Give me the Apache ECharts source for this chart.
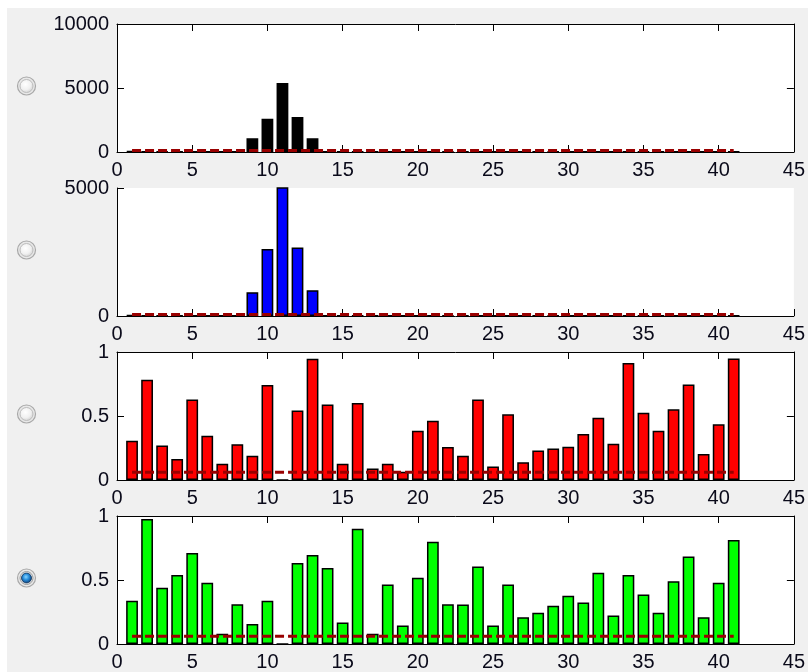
<!DOCTYPE html>
<html>
<head>
<meta charset="utf-8">
<title>Panels</title>
<script src="https://cdn.jsdelivr.net/npm/echarts@6/dist/echarts.min.js"></script>
<style>
  html, body { margin: 0; padding: 0; background: #ffffff; }
  #chart { width: 808px; height: 672px; }
</style>
</head>
<body>
<div id="chart"></div>
<script>
// Bin positions shared by every panel
const positions = [1, 2, 3, 4, 5, 6, 7, 8, 9, 10, 11, 12, 13, 14, 15, 16, 17, 18, 19, 20,
  21, 22, 23, 24, 25, 26, 27, 28, 29, 30, 31, 32, 33, 34, 35, 36, 37, 38, 39, 40, 41];

// Panel 1: counts (black)
const countsA = [90, 20, 20, 25, 20, 25, 20, 30, 1070, 2600, 5390, 2730, 1070, 30, 20, 20, 25, 20, 20, 20,
  20, 25, 20, 20, 20, 20, 25, 20, 20, 20, 20, 20, 25, 20, 20, 20, 20, 25, 20, 20, 20];

// Panel 2: counts (blue)
const countsB = [40, 10, 10, 12, 10, 12, 10, 15, 930, 2620, 5390, 2680, 1010, 15, 10, 10, 12, 10, 10, 10,
  10, 12, 10, 10, 10, 10, 12, 10, 10, 10, 10, 10, 12, 10, 10, 10, 10, 12, 10, 10, 10];

// Panel 3: ratios (red)
const ratiosC = [0.306, 0.783, 0.270, 0.165, 0.628, 0.346, 0.126, 0.280, 0.190, 0.743,
  0, 0.542, 0.948, 0.589, 0.126, 0.602, 0.089, 0.126, 0.065, 0.385,
  0.463, 0.257, 0.190, 0.628, 0.105, 0.513, 0.139, 0.230, 0.246, 0.259,
  0.359, 0.487, 0.283, 0.914, 0.526, 0.385, 0.552, 0.746, 0.204, 0.435, 0.950];

// Panel 4: ratios (green)
const ratiosD = [0.337, 0.977, 0.439, 0.540, 0.710, 0.478, 0.081, 0.311, 0.157, 0.337,
  0, 0.632, 0.695, 0.593, 0.167, 0.900, 0.081, 0.465, 0.144, 0.517,
  0.799, 0.310, 0.308, 0.606, 0.144, 0.465, 0.209, 0.245, 0.298, 0.376,
  0.324, 0.556, 0.222, 0.540, 0.386, 0.245, 0.491, 0.684, 0.209, 0.478, 0.812];

// Dashed threshold level per panel, drawn across this x span
const thresholds = [110, 60, 0.06, 0.06];
const thresholdSpan = [1, 41];

// Tick labels
const xTicks = [0, 5, 10, 15, 20, 25, 30, 35, 40, 45];
const yTicksA = [0, 5000, 10000];
const yTicksB = [0, 5000];
const yTicksC = [0, 0.5, 1];
const yTicksD = [0, 0.5, 1];

const selectedPanel = 3;

// ---- layout & styling ----
const FONT = "'Liberation Sans', Arial, sans-serif";
const gridLeft = 117, gridWidth = 680, gridHeight = 128;
const gridTops = [24, 188, 352, 516];
const barColors = ['#000000', '#0000ff', '#ff0000', '#00ff00'];

const panels = [
  { values: countsA, yTicks: yTicksA, box: true },
  { values: countsB, yTicks: yTicksB, box: false },
  { values: ratiosC, yTicks: yTicksC, box: true },
  { values: ratiosD, yTicks: yTicksD, box: true }
];

const xMin = xTicks[0], xMax = xTicks[xTicks.length - 1], xStep = xTicks[1] - xTicks[0];
const barPx = 0.78 * gridWidth / (xMax - xMin);

const lineStyle = { color: '#000', width: 1 };
const grids = [], xAxes = [], yAxes = [], series = [], graphics = [];

graphics.push(
  { type: 'rect', z: -10, shape: { x: 0, y: 0, width: 808, height: 8 }, style: { fill: '#ffffff' }, silent: true },
  { type: 'rect', z: -10, shape: { x: 0, y: 0, width: 7, height: 672 }, style: { fill: '#ffffff' }, silent: true }
);

panels.forEach((p, i) => {
  grids.push({
    left: gridLeft, top: gridTops[i], width: gridWidth, height: gridHeight,
    show: true, backgroundColor: '#ffffff', borderWidth: 0
  });

  const yMin = p.yTicks[0], yMax = p.yTicks[p.yTicks.length - 1], yStep = p.yTicks[1] - p.yTicks[0];

  const xBase = {
    gridIndex: i, type: 'value', min: xMin, max: xMax, interval: xStep,
    axisLine: { show: true, onZero: false, lineStyle },
    axisTick: { show: true, inside: true, length: 7, lineStyle },
    splitLine: { show: false },
    axisPointer: { show: false }
  };
  const yBase = {
    gridIndex: i, type: 'value', min: yMin, max: yMax, interval: yStep,
    axisLine: { show: true, onZero: false, lineStyle },
    axisTick: { show: true, inside: true, length: 7, lineStyle },
    splitLine: { show: false },
    axisPointer: { show: false }
  };

  const xIdx = xAxes.length;
  xAxes.push(Object.assign({}, xBase, {
    position: 'bottom',
    axisLabel: { show: true, color: '#0a0a1a', fontSize: 20, fontFamily: FONT, margin: 8,
      formatter: v => String(v) }
  }));
  if (p.box) {
    xAxes.push(Object.assign({}, xBase, { position: 'top', axisLabel: { show: false } }));
  }

  const yIdx = yAxes.length;
  yAxes.push(Object.assign({}, yBase, {
    position: 'left',
    axisLabel: { show: true, color: '#0a0a1a', fontSize: 20, fontFamily: FONT, margin: 8,
      formatter: v => String(v) }
  }));
  if (p.box) {
    yAxes.push(Object.assign({}, yBase, { position: 'right', axisLabel: { show: false } }));
  }

  series.push({
    type: 'bar', xAxisIndex: xIdx, yAxisIndex: yIdx,
    data: positions.map((x, k) => [x, p.values[k]]),
    barWidth: barPx, clip: true, silent: true,
    itemStyle: { color: barColors[i], borderColor: '#000', borderWidth: 1.5 },
    z: 2
  });
  series.push({
    type: 'line', xAxisIndex: xIdx, yAxisIndex: yIdx,
    data: thresholdSpan.map(x => [x, thresholds[i]]),
    symbol: 'none', silent: true, clip: true,
    lineStyle: { color: '#990000', width: 3, type: [9, 4] },
    z: 3
  });

  // radio button beside each panel
  const cy = gridTops[i] + gridHeight / 2 - 2;
  const cx = 26.5;
  graphics.push({
    type: 'circle', silent: true, z: 5,
    shape: { cx, cy, r: 9 },
    style: { fill: '#e8e8e8', stroke: '#a8a8a8', lineWidth: 1.2 }
  });
  if (i === selectedPanel) {
    graphics.push({
      type: 'circle', silent: true, z: 6,
      shape: { cx, cy, r: 6.5 },
      style: { fill: '#f6f6f6', stroke: '#9a9a9a', lineWidth: 1 }
    });
    graphics.push({
      type: 'circle', silent: true, z: 7,
      shape: { cx, cy, r: 5 },
      style: {
        fill: new echarts.graphic.RadialGradient(0.45, 0.4, 0.6, [
          { offset: 0, color: '#8ad6ff' },
          { offset: 0.45, color: '#2a8fdc' },
          { offset: 1, color: '#0a3c74' }
        ]),
        stroke: '#0b2c52', lineWidth: 0.8
      }
    });
  } else {
    graphics.push({
      type: 'circle', silent: true, z: 6,
      shape: { cx, cy, r: 6.5 },
      style: {
        fill: new echarts.graphic.RadialGradient(0.42, 0.38, 0.65, [
          { offset: 0, color: '#ffffff' },
          { offset: 0.6, color: '#f0f0f0' },
          { offset: 1, color: '#cfcfcf' }
        ]),
        stroke: '#bcbcbc', lineWidth: 1
      }
    });
  }
});

const chart = echarts.init(document.getElementById('chart'), null, { renderer: 'canvas' });
chart.setOption({
  animation: false,
  backgroundColor: '#f0f0f0',
  textStyle: { fontFamily: FONT },
  grid: grids,
  xAxis: xAxes,
  yAxis: yAxes,
  series: series,
  graphic: graphics
});
</script>
</body>
</html>
